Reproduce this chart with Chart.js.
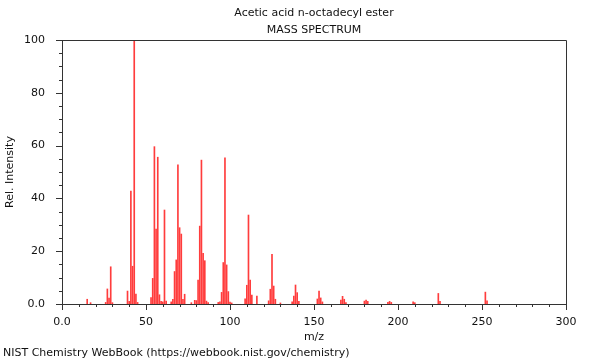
<!DOCTYPE html>
<html>
<head>
<meta charset="utf-8">
<script src="https://cdn.jsdelivr.net/npm/chart.js@4"></script>
<style>
  html, body { margin: 0; padding: 0; background: #fff; }
  #wrap { width: 600px; height: 360px; position: relative; }
</style>
</head>
<body>
<div id="wrap"><canvas id="c" width="600" height="360"></canvas></div>
<script>
const titleLines = ['Acetic acid n-octadecyl ester', 'MASS SPECTRUM'];
const footerText = 'NIST Chemistry WebBook (https://webbook.nist.gov/chemistry)';
const xLabel = 'm/z';
const yLabel = 'Rel. Intensity';

const mz = [15, 17, 26, 27, 28, 29, 30, 39, 40, 41, 42, 43, 44, 45,
  53, 54, 55, 56, 57, 58, 59, 60, 61, 62, 65, 66, 67, 68, 69, 70, 71, 72, 73,
  77, 79, 80, 81, 82, 83, 84, 85, 86, 87, 93, 94, 95, 96, 97, 98, 99, 100, 101,
  109, 110, 111, 112, 113, 116, 123, 124, 125, 126, 127, 130,
  137, 138, 139, 140, 141, 152, 153, 154, 155, 166, 167, 168, 169,
  180, 181, 182, 194, 195, 196, 209, 210, 224, 225, 252, 253];
const intensity = [1.8, 0.5, 0.6, 5.7, 2.2, 14.1, 0.5, 4.9, 1.0, 42.8, 14.3, 100, 3.8, 0.6,
  2.4, 9.7, 59.6, 28.4, 55.6, 3.5, 1.0, 0.8, 35.6, 1.1, 0.8, 1.8, 12.3, 16.7, 52.7, 28.9, 26.5, 1.8, 3.7,
  0.5, 1.4, 1.3, 9.1, 29.5, 54.5, 19.2, 16.4, 1.1, 0.5, 0.6, 0.8, 4.4, 15.7, 55.4, 14.8, 4.7, 0.7, 0.4,
  2.0, 7.1, 33.7, 9.1, 3.4, 3.0, 1.2, 5.6, 18.8, 6.8, 1.8, 0.4,
  0.8, 3.0, 7.2, 4.3, 1.0, 1.9, 4.9, 2.3, 0.8, 1.5, 2.9, 1.8, 0.5,
  1.1, 1.5, 1.0, 0.6, 1.0, 0.6, 0.8, 0.5, 4.0, 1.0, 4.5, 1.2];

const xMajor = 50, xMinor = 10, yMajor = 20, yMinor = 5;
const xMin = 0, xMax = 300, yMin = 0, yMax = 100;

const FONT = 'DejaVu Sans';
const TEXT = '#111';
const AXIS = '#333';

Chart.defaults.font.family = FONT;
Chart.defaults.font.size = 11;
Chart.defaults.color = TEXT;

const points = mz.map((m, i) => ({ x: m, y: intensity[i] }));

const fmt = v => (v === 0 ? '0.0' : String(v));

const decor = {
  id: 'decor',
  afterDraw(chart) {
    const { ctx, chartArea: a, scales } = chart;
    ctx.save();
    ctx.strokeStyle = AXIS;
    ctx.lineWidth = 1;
    ctx.beginPath();
    ctx.moveTo(Math.round(a.left) + 0.5, Math.round(a.top) + 0.5);
    ctx.lineTo(Math.round(a.right) + 0.5, Math.round(a.top) + 0.5);
    ctx.lineTo(Math.round(a.right) + 0.5, Math.round(a.bottom) + 0.5);
    ctx.stroke();
    ctx.beginPath();
    for (let v = yMin; v <= yMax; v += yMinor) {
      const y = Math.round(scales.y.getPixelForValue(v)) + 0.5;
      const len = v % yMajor === 0 ? 6 : 3;
      ctx.moveTo(a.left - len, y);
      ctx.lineTo(a.left, y);
    }
    for (let v = xMin; v <= xMax; v += xMinor) {
      const x = Math.round(scales.x.getPixelForValue(v)) + 0.5;
      const len = v % xMajor === 0 ? 6 : 3;
      ctx.moveTo(x, a.bottom);
      ctx.lineTo(x, a.bottom + len);
    }
    ctx.stroke();
    ctx.fillStyle = TEXT;
    ctx.font = '11px "' + FONT + '"';
    ctx.textAlign = 'center';
    ctx.textBaseline = 'middle';
    const cx = (a.left + a.right) / 2;
    ctx.fillText(titleLines[0], cx, 13);
    ctx.fillText(titleLines[1], cx, 30);
    ctx.textAlign = 'left';
    ctx.fillText(footerText, 3, 353);
    ctx.restore();
  }
};

new Chart(document.getElementById('c'), {
  type: 'bar',
  data: {
    datasets: [{
      data: points,
      backgroundColor: 'rgb(255,60,60)',
      borderWidth: 0,
      barThickness: 1,
      grouped: false
    }]
  },
  options: {
    responsive: false,
    animation: false,
    layout: { padding: { top: 40, right: 34, bottom: 16, left: 0 } },
    plugins: { legend: { display: false }, tooltip: { enabled: false }, title: { display: false } },
    scales: {
      x: {
        type: 'linear',
        min: xMin, max: xMax,
        offset: false,
        grid: { display: false },
        border: { display: true, color: AXIS },
        ticks: { stepSize: xMajor, padding: 4, maxRotation: 0, callback: fmt, color: TEXT },
        title: { display: true, text: xLabel, padding: 0, color: TEXT },
        afterFit: s => { s.height = 40; }
      },
      y: {
        min: yMin, max: yMax,
        grid: { display: false },
        border: { display: true, color: AXIS },
        ticks: { stepSize: yMajor, padding: 9, callback: fmt, color: TEXT },
        title: { display: true, text: yLabel, padding: { top: 4, bottom: 0 }, color: TEXT },
        afterFit: s => { s.width = 62; }
      }
    }
  },
  plugins: [decor]
});
</script>
</body>
</html>
